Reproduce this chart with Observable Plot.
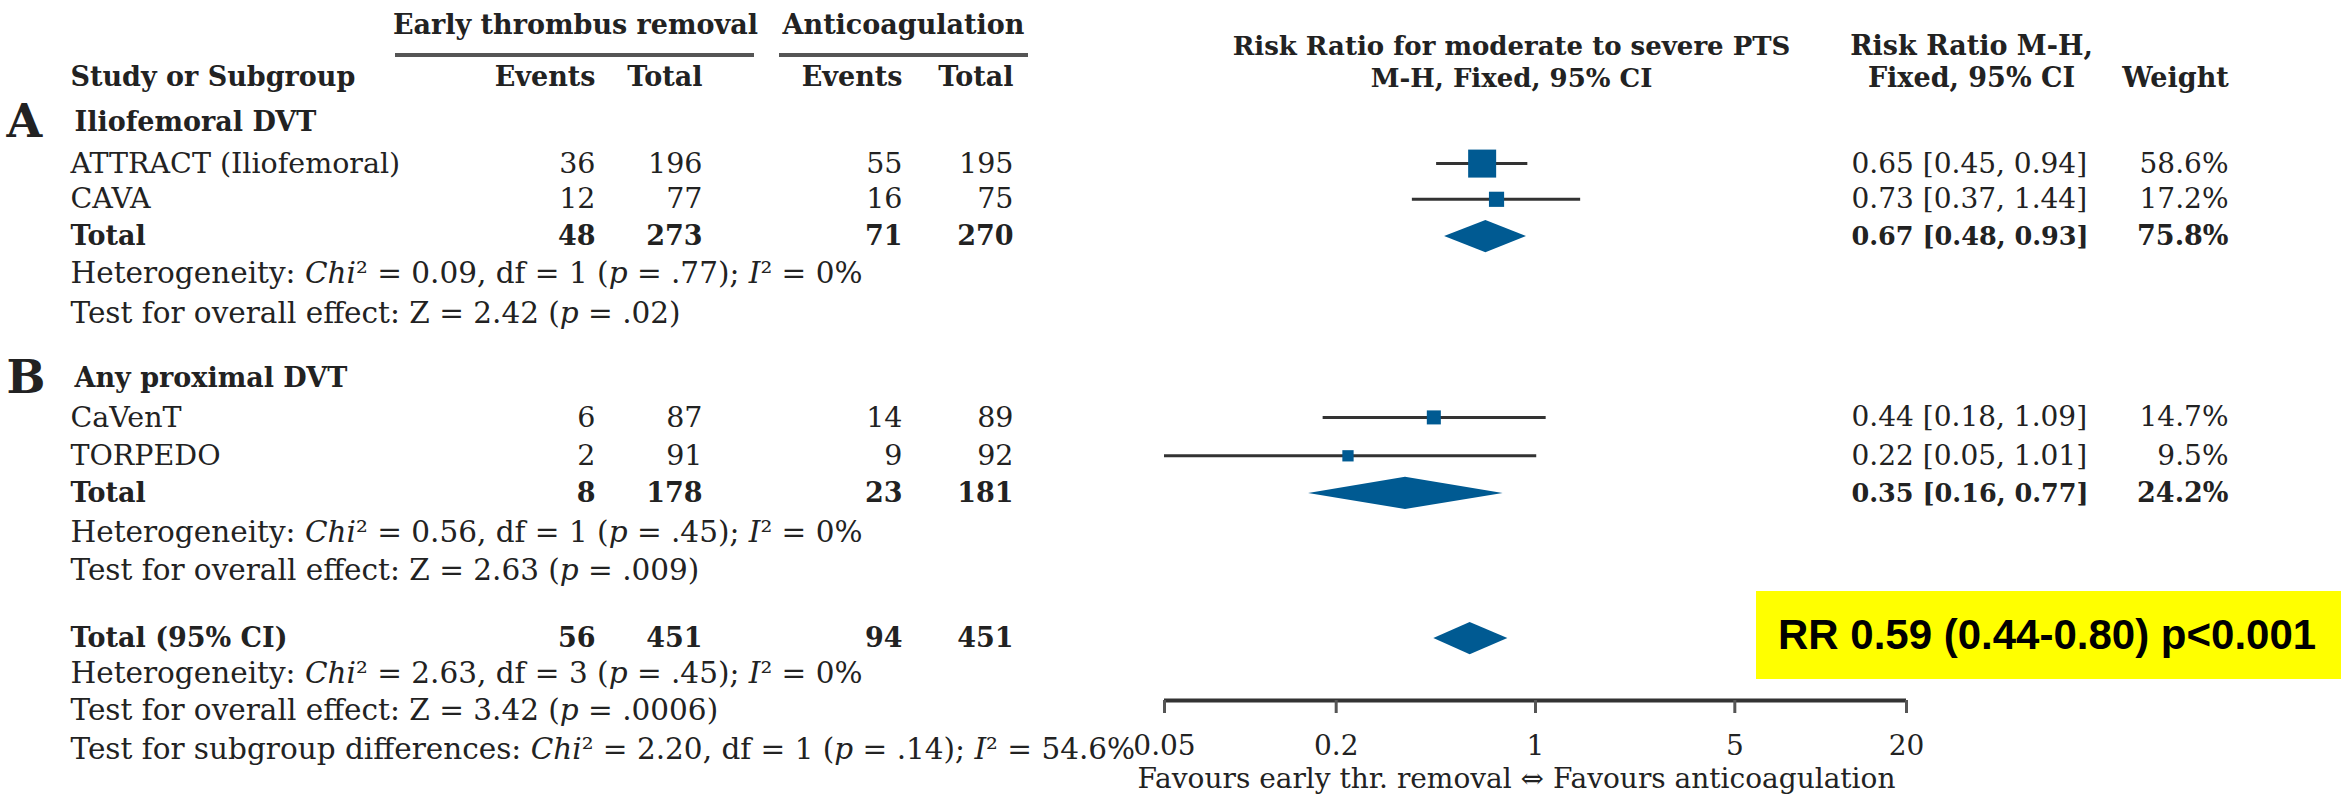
<!DOCTYPE html>
<html>
<head>
<meta charset="utf-8">
<script src="https://cdn.jsdelivr.net/npm/d3@7"></script>
<script src="https://cdn.jsdelivr.net/npm/@observablehq/plot@0.6"></script>
<style>
  html, body { margin: 0; padding: 0; background: #fff; }
  #chart { position: relative; width: 2341px; height: 797px; overflow: hidden; }
  #rr-note {
    position: absolute; left: 1756px; top: 591px; width: 585px; height: 88px;
    background: #ffff00; color: #000; box-sizing: border-box; padding-left: 22px;
    font-family: "Liberation Sans", Arial, sans-serif; font-weight: bold; font-size: 42px;
    line-height: 88px; white-space: nowrap;
  }
</style>
</head>
<body>
<div id="chart"></div>
<script>
// ---- Individual trials ----
const studies = ["ATTRACT (Iliofemoral)", "CAVA", "CaVenT", "TORPEDO"];
const eventsRemoval = [36, 12, 6, 2];
const totalRemoval = [196, 77, 87, 91];
const eventsAnticoag = [55, 16, 14, 9];
const totalAnticoag = [195, 75, 89, 92];
const riskRatio = [0.65, 0.73, 0.44, 0.22];
const ciLower = [0.45, 0.37, 0.18, 0.05];
const ciUpper = [0.94, 1.44, 1.09, 1.01];
const weights = [58.6, 17.2, 14.7, 9.5];

// ---- Subgroups ----
const groupLetters = ["A", "B"];
const groupNames = ["Iliofemoral DVT", "Any proximal DVT"];
const groupEventsRemoval = [48, 8];
const groupTotalRemoval = [273, 178];
const groupEventsAnticoag = [71, 23];
const groupTotalAnticoag = [270, 181];
const groupRiskRatio = [0.67, 0.35];
const groupCiLower = [0.48, 0.16];
const groupCiUpper = [0.93, 0.77];
const groupWeights = [75.8, 24.2];
const groupHeterogeneity = [
  "Heterogeneity: *Chi*² = 0.09, df = 1 (*p* = .77); *I*² = 0%",
  "Heterogeneity: *Chi*² = 0.56, df = 1 (*p* = .45); *I*² = 0%"
];
const groupOverallEffect = [
  "Test for overall effect: Z = 2.42 (*p* = .02)",
  "Test for overall effect: Z = 2.63 (*p* = .009)"
];

// ---- Pooled estimate ----
const pooledLabel = "Total (95% CI)";
const pooledCounts = [56, 451, 94, 451]; // events / total, removal then anticoagulation
const pooledRiskRatio = 0.59;
const pooledCiLower = 0.44;
const pooledCiUpper = 0.80;
const pooledP = "<0.001";
const pooledNotes = [
  "Heterogeneity: *Chi*² = 2.63, df = 3 (*p* = .45); *I*² = 0%",
  "Test for overall effect: Z = 3.42 (*p* = .0006)",
  "Test for subgroup differences: *Chi*² = 2.20, df = 1 (*p* = .14); *I*² = 54.6%"
];

// ---- Axis ----
const axisTicks = [0.05, 0.2, 1, 5, 20];
const axisLabel = "Favours early thr. removal ⇔ Favours anticoagulation";

// ---- Layout ----
const W = 2341, H = 797;
const M = {left: 1164, right: 435, top: 0, bottom: 97};
const ROW0 = 122, ROW = 38.4;            // pixel centre of line 0 and line pitch
const BLUE = "#005a92", INK = "#222";
// vertical line slots (in line units)
const studySlot = [1.07, 2.0, 7.68, 8.68];
const groupSlot = [0, 6.67];
const groupTotalSlot = [2.97, 9.66];
const groupHetSlot = [3.93, 10.68];
const groupEffectSlot = [4.98, 11.68];
const pooledSlot = 13.44;
const pooledNoteSlot = [14.36, 15.32, 16.33];
const head = {top: -2.53, rule: -1.745, cols: -1.17, forest1: -1.98, forest2: -1.14};
const tickLabelSlot = 16.24;
const favourSlot = 17.11;
const axisSlot = (H - M.bottom - ROW0) / ROW;
const TICK = 13 / ROW;                    // tick length, in line units
const DIAMOND = 0.42;                     // half height of summary diamonds, in line units
// horizontal column anchors (px)
const X = {
  letter: 6, label: 70, group: 74,
  e1: 595, t1: 702, e2: 902, t2: 1013,
  ci: 1851, weight: 2228,
  early: 575, anticoag: 903, forest: 1511, rrHead: 1971, weightHead: 2175,
  earlyRule: [395, 754], anticoagRule: [779, 1028]
};

const fmt2 = v => v.toFixed(2);
const ciText = (rr, lo, hi) => `${fmt2(rr)} [${fmt2(lo)}, ${fmt2(hi)}]`;

const studyRows = studies.map((name, i) => ({
  name, e1: eventsRemoval[i], t1: totalRemoval[i], e2: eventsAnticoag[i], t2: totalAnticoag[i],
  rr: riskRatio[i], lo: ciLower[i], hi: ciUpper[i], w: weights[i], slot: studySlot[i],
  ci: ciText(riskRatio[i], ciLower[i], ciUpper[i]), wt: weights[i].toFixed(1) + "%"
}));
const groupRows = groupLetters.map((letter, i) => ({
  letter, name: groupNames[i], slot: groupSlot[i], totalSlot: groupTotalSlot[i],
  e1: groupEventsRemoval[i], t1: groupTotalRemoval[i], e2: groupEventsAnticoag[i], t2: groupTotalAnticoag[i],
  rr: groupRiskRatio[i], lo: groupCiLower[i], hi: groupCiUpper[i],
  ci: ciText(groupRiskRatio[i], groupCiLower[i], groupCiUpper[i]), wt: groupWeights[i].toFixed(1) + "%"
}));
const noteRows = [
  ...groupHeterogeneity.map((t, i) => ({t, slot: groupHetSlot[i]})),
  ...groupOverallEffect.map((t, i) => ({t, slot: groupEffectSlot[i]})),
  ...pooledNotes.map((t, i) => ({t, slot: pooledNoteSlot[i]}))
];
const pooledRow = [{
  name: pooledLabel, e1: pooledCounts[0], t1: pooledCounts[1], e2: pooledCounts[2], t2: pooledCounts[3],
  rr: pooledRiskRatio, lo: pooledCiLower, hi: pooledCiUpper, slot: pooledSlot
}];

// summary diamonds as areas between lower and upper limits
const diamondOf = (id, rr, lo, hi, slot) => [
  {id, y: slot - DIAMOND, x1: rr, x2: rr},
  {id, y: slot, x1: lo, x2: hi},
  {id, y: slot + DIAMOND, x1: rr, x2: rr}
];
const diamonds = [
  ...groupRows.flatMap(g => diamondOf(g.letter, g.rr, g.lo, g.hi, g.totalSlot)),
  ...diamondOf("all", pooledRiskRatio, pooledCiLower, pooledCiUpper, pooledSlot)
];

// text placed at a pixel column, rows from the y scale
function col(data, px, opts) {
  return Plot.text(data, {frameAnchor: "left", dx: px - M.left, fill: INK, fontSize: 28.5, ...opts});
}
const bold = {fontWeight: "bold", fontSize: 27};
const num = {textAnchor: "end"};

const chart = Plot.plot({
  width: W, height: H,
  marginLeft: M.left, marginRight: M.right, marginTop: M.top, marginBottom: M.bottom,
  style: {fontFamily: '"DejaVu Serif", serif', fontSize: "28px", color: INK, background: "#fff", overflow: "visible"},
  x: {type: "log", domain: [0.05, 20], axis: null},
  y: {domain: [0, 1], range: [ROW0, ROW0 + ROW], axis: null},
  r: {type: "sqrt", domain: [0, d3.max(weights)], range: [0, 15.8]},
  marks: [
    // column headers
    col([{t: "Early thrombus removal", s: head.top}], X.early, {y: "s", text: "t", textAnchor: "middle", ...bold}),
    col([{t: "Anticoagulation", s: head.top}], X.anticoag, {y: "s", text: "t", textAnchor: "middle", ...bold}),
    col([{t: "Study or Subgroup", s: head.cols}], X.label, {y: "s", text: "t", ...bold}),
    col([{t: "Events", s: head.cols}], X.e1, {y: "s", text: "t", ...num, ...bold}),
    col([{t: "Total", s: head.cols}], X.t1, {y: "s", text: "t", ...num, ...bold}),
    col([{t: "Events", s: head.cols}], X.e2, {y: "s", text: "t", ...num, ...bold}),
    col([{t: "Total", s: head.cols}], X.t2, {y: "s", text: "t", ...num, ...bold}),
    col([{t: "Risk Ratio for moderate to severe PTS", s: head.forest1}, {t: "M-H, Fixed, 95% CI", s: head.forest2}],
      X.forest, {y: "s", text: "t", textAnchor: "middle", ...bold, fontSize: 26}),
    col([{t: "Risk Ratio M-H,", s: head.forest1}, {t: "Fixed, 95% CI", s: head.forest2}],
      X.rrHead, {y: "s", text: "t", textAnchor: "middle", ...bold}),
    col([{t: "Weight", s: head.forest2}], X.weightHead, {y: "s", text: "t", textAnchor: "middle", ...bold}),

    // subgroup headings
    col(groupRows, X.letter, {y: "slot", text: "letter", fontWeight: "bold", fontSize: 46}),
    col(groupRows, X.group, {y: "slot", text: "name", ...bold}),

    // trial rows
    col(studyRows, X.label, {y: "slot", text: "name"}),
    col(studyRows, X.e1, {y: "slot", text: "e1", ...num}),
    col(studyRows, X.t1, {y: "slot", text: "t1", ...num}),
    col(studyRows, X.e2, {y: "slot", text: "e2", ...num}),
    col(studyRows, X.t2, {y: "slot", text: "t2", ...num}),
    col(studyRows, X.ci, {y: "slot", text: "ci", fontSize: 28}),
    col(studyRows, X.weight, {y: "slot", text: "wt", ...num, fontSize: 28}),

    // subgroup totals
    col(groupRows, X.label, {y: "totalSlot", text: () => "Total", ...bold}),
    col(groupRows, X.e1, {y: "totalSlot", text: "e1", ...num, ...bold}),
    col(groupRows, X.t1, {y: "totalSlot", text: "t1", ...num, ...bold}),
    col(groupRows, X.e2, {y: "totalSlot", text: "e2", ...num, ...bold}),
    col(groupRows, X.t2, {y: "totalSlot", text: "t2", ...num, ...bold}),
    col(groupRows, X.ci, {y: "totalSlot", text: "ci", ...bold, fontSize: 25.5}),
    col(groupRows, X.weight, {y: "totalSlot", text: "wt", ...num, ...bold}),

    // pooled total
    col(pooledRow, X.label, {y: "slot", text: "name", ...bold}),
    col(pooledRow, X.e1, {y: "slot", text: "e1", ...num, ...bold}),
    col(pooledRow, X.t1, {y: "slot", text: "t1", ...num, ...bold}),
    col(pooledRow, X.e2, {y: "slot", text: "e2", ...num, ...bold}),
    col(pooledRow, X.t2, {y: "slot", text: "t2", ...num, ...bold}),

    // statistics notes
    col(noteRows, X.label, {y: "slot", text: "t", fontSize: 29.5}),

    // forest plot
    Plot.ruleY(studyRows, {y: "slot", x1: "lo", x2: "hi", stroke: "#333", strokeWidth: 3}),
    Plot.dot(studyRows, {x: "rr", y: "slot", r: "w", symbol: "square", fill: BLUE, stroke: null}),
    Plot.areaX(diamonds, {y: "y", x1: "x1", x2: "x2", z: "id", fill: BLUE, curve: "linear"}),

    // axis: baseline, ticks, tick labels, direction label
    Plot.ruleY([axisSlot], {stroke: "#333", strokeWidth: 4}),
    Plot.ruleX(axisTicks, {x: d => d, y1: axisSlot, y2: axisSlot + TICK, stroke: "#555", strokeWidth: 3}),
    Plot.text(axisTicks, {x: d => d, y: () => tickLabelSlot, text: d => String(d), fontSize: 28, fill: INK}),
    col([{t: axisLabel, s: favourSlot}], (M.left + W - M.right) / 2 - 19, {y: "s", text: "t", textAnchor: "middle", fontSize: 28})
  ]
});

// italic spans for statistic symbols marked with *...*
d3.select(chart).selectAll("text").each(function () {
  const s = this.textContent;
  if (!s.includes("*")) return;
  const parts = s.split("*");
  this.textContent = "";
  parts.forEach((p, k) => {
    if (!p) return;
    const ts = document.createElementNS("http://www.w3.org/2000/svg", "tspan");
    ts.textContent = p;
    if (k % 2) ts.setAttribute("font-style", "italic");
    this.appendChild(ts);
  });
});

// rules under the two arm headers
const yRule = chart.scale("y").apply(head.rule);
for (const [a, b] of [X.earlyRule, X.anticoagRule]) {
  d3.select(chart).append("line")
    .attr("x1", a).attr("x2", b).attr("y1", yRule).attr("y2", yRule)
    .attr("stroke", "#555").attr("stroke-width", 4);
}

const host = document.getElementById("chart");
host.appendChild(chart);
const note = document.createElement("div");
note.id = "rr-note";
note.textContent = `RR ${fmt2(pooledRiskRatio)} (${fmt2(pooledCiLower)}-${fmt2(pooledCiUpper)}) p${pooledP}`;
host.appendChild(note);
</script>
</body>
</html>
